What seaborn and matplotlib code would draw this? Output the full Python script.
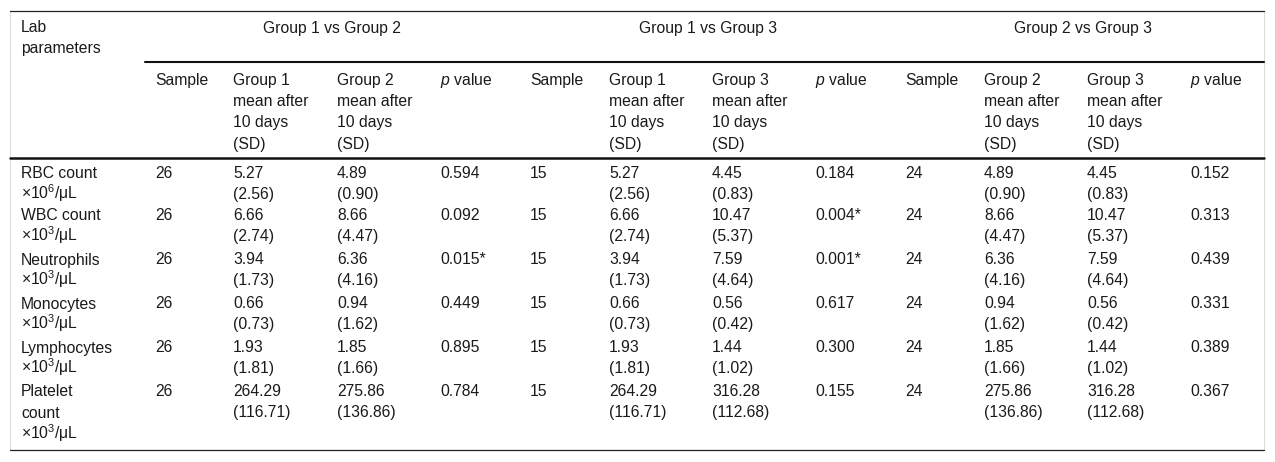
import matplotlib
matplotlib.use("Agg")
import matplotlib.pyplot as plt
import seaborn as sns

sns.set_theme(style="white")
plt.rcParams['font.family'] = ['Liberation Sans', 'DejaVu Sans']
plt.rcParams['mathtext.fontset'] = 'custom'
plt.rcParams['mathtext.rm'] = 'Liberation Sans'
plt.rcParams['mathtext.it'] = 'Liberation Sans:italic'

# ---- data ----
group_titles = ["Group 1 vs Group 2", "Group 1 vs Group 3", "Group 2 vs Group 3"]
sub_headers = [
    "Sample", "Group 1\nmean after\n10 days\n(SD)", "Group 2\nmean after\n10 days\n(SD)", "$p$ value",
    "Sample", "Group 1\nmean after\n10 days\n(SD)", "Group 3\nmean after\n10 days\n(SD)", "$p$ value",
    "Sample", "Group 2\nmean after\n10 days\n(SD)", "Group 3\nmean after\n10 days\n(SD)", "$p$ value",
]
lab_params = [
    "RBC count\n×10$^{6}$/μL",
    "WBC count\n×10$^{3}$/μL",
    "Neutrophils\n×10$^{3}$/μL",
    "Monocytes\n×10$^{3}$/μL",
    "Lymphocytes\n×10$^{3}$/μL",
    "Platelet\ncount\n×10$^{3}$/μL",
]
sample_12 = ["26", "26", "26", "26", "26", "26"]
g1_mean = ["5.27\n(2.56)", "6.66\n(2.74)", "3.94\n(1.73)", "0.66\n(0.73)", "1.93\n(1.81)", "264.29\n(116.71)"]
g2_mean = ["4.89\n(0.90)", "8.66\n(4.47)", "6.36\n(4.16)", "0.94\n(1.62)", "1.85\n(1.66)", "275.86\n(136.86)"]
p_12 = ["0.594", "0.092", "0.015*", "0.449", "0.895", "0.784"]
sample_13 = ["15", "15", "15", "15", "15", "15"]
g3_mean = ["4.45\n(0.83)", "10.47\n(5.37)", "7.59\n(4.64)", "0.56\n(0.42)", "1.44\n(1.02)", "316.28\n(112.68)"]
p_13 = ["0.184", "0.004*", "0.001*", "0.617", "0.300", "0.155"]
sample_23 = ["24", "24", "24", "24", "24", "24"]
p_23 = ["0.152", "0.313", "0.439", "0.331", "0.389", "0.367"]

columns = [lab_params, sample_12, g1_mean, g2_mean, p_12,
           sample_13, g1_mean, g3_mean, p_13,
           sample_23, g2_mean, g3_mean, p_23]

# ---- layout ----
W, H = 1275, 462
col_x = [21, 155, 233, 337, 440, 530, 609, 712, 815, 905, 984, 1087, 1190]
group_centers = [332, 708, 1083]
row_first_center = [172, 215, 259, 303, 347, 391]
line_h = 21
fs = 11.3
txt_color = "#1a1a1a"

fig = plt.figure(figsize=(W / 100, H / 100), dpi=100)
ax = fig.add_axes([0, 0, 1, 1])
ax.set_xlim(0, W)
ax.set_ylim(H, 0)
ax.axis("off")


def draw_lines(x, y_center, text, ha="left"):
    for i, line in enumerate(text.split("\n")):
        ax.text(x, y_center + 5.5 + i * line_h, line, ha=ha, va="baseline",
                fontsize=fs, color=txt_color)


# rules
ax.plot([10, 10], [11, 450], color="#dcdcdc", lw=0.8)
ax.plot([1264, 1264], [11, 450], color="#dcdcdc", lw=0.8)
ax.plot([10, 1264], [11, 11], color="#222222", lw=0.9)
ax.plot([145, 1264], [62, 62], color="#111111", lw=1.5)
ax.plot([10, 1264], [158, 158], color="#111111", lw=1.8)
ax.plot([10, 1264], [450, 450], color="#222222", lw=0.9)

# header
draw_lines(col_x[0], 27, "Lab\nparameters")
for cx, title in zip(group_centers, group_titles):
    draw_lines(cx, 27, title, ha="center")
for x, h in zip(col_x[1:], sub_headers):
    draw_lines(x, 80, h)

# body
for x, col in zip(col_x, columns):
    for yc, val in zip(row_first_center, col):
        draw_lines(x, yc, val)

fig.savefig("out.png", dpi=100, facecolor="white")
